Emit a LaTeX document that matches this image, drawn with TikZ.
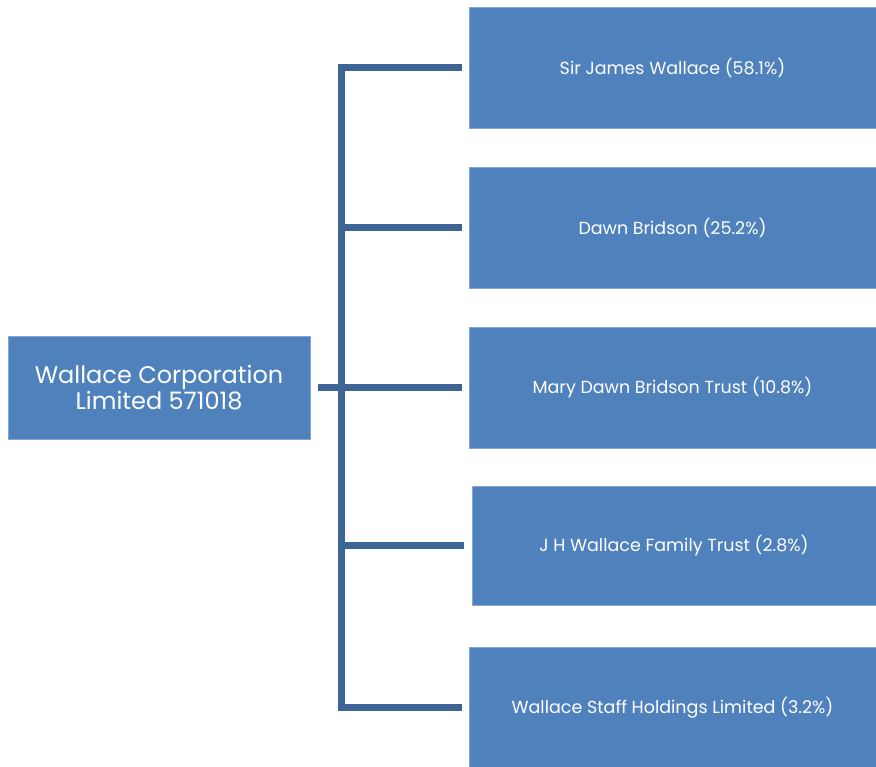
\documentclass[tikz,border=0pt]{standalone}
\usepackage{fontspec}
\setmainfont{Poppins}
\definecolor{boxblue}{HTML}{4F81BD}
\definecolor{connblue}{HTML}{3D6696}
\begin{document}
\begin{tikzpicture}[x=1pt,y=-1pt,
  box/.style={rectangle,fill=boxblue,draw=boxblue!70!white,line width=0.6pt,text=white,inner sep=0pt,align=center},
  rootbox/.style={box,minimum width=302pt,minimum height=103pt,font=\fontsize{24}{26}\selectfont},
  sharebox/.style={box,minimum width=407pt,minimum height=121pt,font=\fontsize{17.5}{20}\selectfont},
  conn/.style={draw=connblue,line width=7pt,line join=miter}]
\useasboundingbox (0,0) rectangle (876,767);
\node[rootbox] (root) at (159,387.5) {Wallace Corporation\\Limited 571018};
\node[sharebox] (b1) at (672.5,67.5) {Sir James Wallace (58.1\%)};
\node[sharebox] (b2) at (672.5,227.5) {Dawn Bridson (25.2\%)};
\node[sharebox] (b3) at (672.5,387.5) {Mary Dawn Bridson Trust (10.8\%)};
\node[sharebox,minimum width=404pt,minimum height=119pt] (b4) at (674,545.5) {J H Wallace Family Trust (2.8\%)};
\node[sharebox] (b5) at (672.5,707.5) {Wallace Staff Holdings Limited (3.2\%)};
\coordinate (tk) at (341,0);
\draw[conn,shorten <=7pt,shorten >=7pt] (b1.west) -- (tk|-b1.west) -- (tk|-b5.west) -- (b5.west);
\draw[conn,shorten <=7pt] (b2.west) -- (tk|-b2.west);
\draw[conn,shorten <=7pt] (b3.west) -- (tk|-b3.west);
\draw[conn,shorten <=8pt] (b4.west) -- (tk|-b4.west);
\draw[conn,shorten <=8pt] (root.east) -- (tk|-root.east);
\end{tikzpicture}
\end{document}
